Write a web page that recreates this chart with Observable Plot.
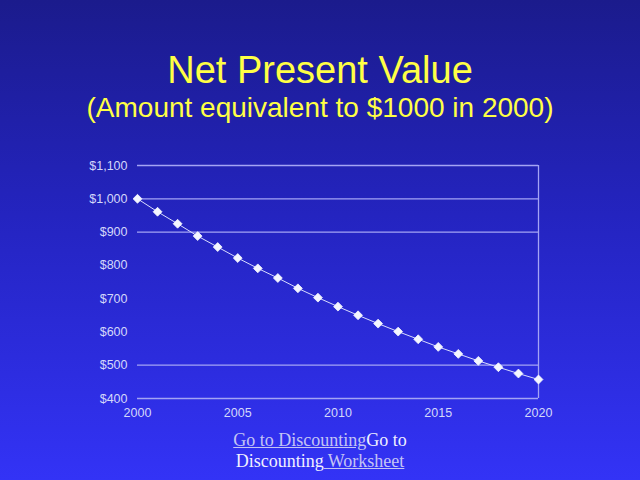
<!DOCTYPE html>
<html>
<head>
<meta charset="utf-8">
<script src="https://cdn.jsdelivr.net/npm/d3@7"></script>
<script src="https://cdn.jsdelivr.net/npm/@observablehq/plot@0.6"></script>
<style>
  html, body { margin: 0; padding: 0; }
  body {
    width: 640px; height: 480px; position: relative; overflow: hidden;
    background: linear-gradient(to bottom, #1b1b8c 0%, #2424c0 45%, #3333f6 100%);
    font-family: "Liberation Sans", Arial, sans-serif;
  }
  .title { position: absolute; left: 0; width: 640px; text-align: center; color: #ffff45; white-space: nowrap; }
  #t1 { top: 51px; font-size: 38px; line-height: 38px; }
  #t2 { top: 94px; font-size: 28px; line-height: 28px; }
  #chart { position: absolute; left: 0; top: 140px; }
  #foot {
    position: absolute; left: 0; top: 430px; width: 640px; text-align: center;
    font-family: "Liberation Serif", "Times New Roman", serif; font-size: 18px; line-height: 21px;
    color: #f0f0ff;
  }
  #foot .lk { color: #c4c4f4; text-decoration: underline; }
</style>
</head>
<body>
<div class="title" id="t1">Net Present Value</div>
<div class="title" id="t2">(Amount equivalent to $1000 in 2000)</div>
<div id="chart"></div>
<div id="foot"><span class="lk">Go to Discounting</span>Go to<br>Discounting<span class="lk"> Worksheet</span></div>
<script>
const years = [2000, 2001, 2002, 2003, 2004, 2005, 2006, 2007, 2008, 2009, 2010,
               2011, 2012, 2013, 2014, 2015, 2016, 2017, 2018, 2019, 2020];
const values = [1000, 961, 925, 888, 855, 822, 791, 762, 731, 703, 676,
                650, 625, 601, 578, 555, 534, 513, 494, 475, 457];
const yTicks = [400, 500, 600, 700, 800, 900, 1000, 1100];
const xTicks = [2000, 2005, 2010, 2015, 2020];
const gridLines = [400, 500, 900, 1000, 1100];

const data = years.map((y, i) => ({year: y, value: values[i]}));

const chart = Plot.plot({
  width: 640,
  height: 290,
  marginLeft: 137,
  marginRight: 102,
  marginTop: 25,
  marginBottom: 32,
  style: {background: "transparent", fontFamily: "Liberation Sans, Arial, sans-serif", fontSize: "12.5px", color: "#d4d8fa"},
  x: {domain: [2000, 2020], ticks: xTicks, tickFormat: d => String(d), tickSize: 0, tickPadding: 10, label: null},
  y: {domain: [400, 1100], ticks: yTicks, tickFormat: d3.format("$,"), tickSize: 0, tickPadding: 10, label: null},
  marks: [
    Plot.ruleY(gridLines, {stroke: "#a4a4f4", strokeWidth: 1.3}),
    Plot.ruleX([2020], {y1: 400, y2: 1100, stroke: "#a4a4f4", strokeWidth: 1.3}),
    Plot.line(data, {x: "year", y: "value", stroke: "#d8dcff", strokeWidth: 1}),
    Plot.dot(data, {x: "year", y: "value", symbol: "diamond2", r: 4, fill: "#f4f6ff", stroke: "#f4f6ff", strokeWidth: 0.8})
  ]
});
document.getElementById("chart").appendChild(chart);
</script>
</body>
</html>
